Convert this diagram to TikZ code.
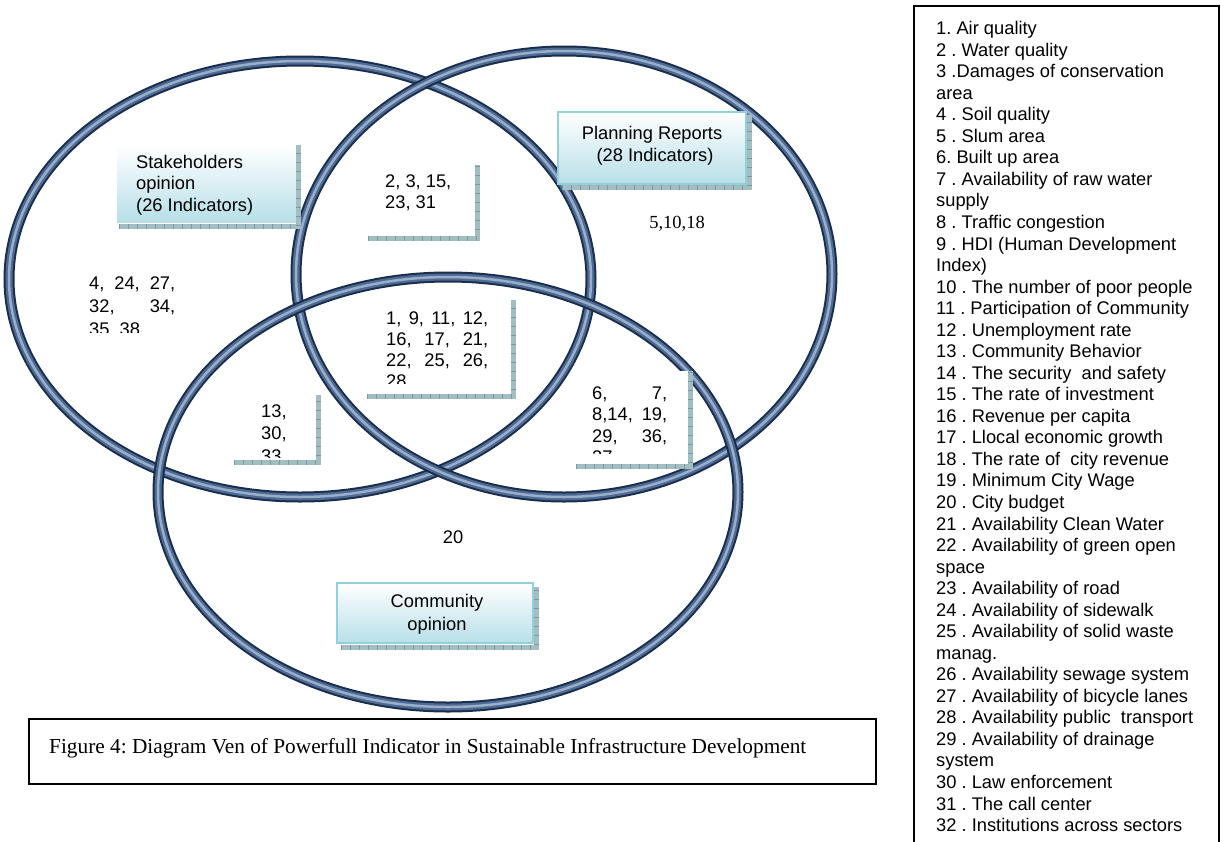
\documentclass[tikz,border=0pt]{standalone}
\usepackage{fontspec}
\setmainfont{Liberation Sans}
\newfontfamily\tnr{Liberation Serif}
\frenchspacing
\definecolor{ringA}{HTML}{1A2D4D}
\definecolor{ringB}{HTML}{4D6B92}
\definecolor{ringC}{HTML}{9AAECB}
\definecolor{hatchA}{HTML}{A3BEC2}
\definecolor{hatchB}{HTML}{7A9A9F}
\definecolor{boxedge}{HTML}{92D0DC}
\definecolor{boxbot}{HTML}{B7DFE8}
\tikzset{
  ring/.style={draw=ringA, line width=11pt,
    postaction={draw=ringB, line width=7pt},
    postaction={draw=ringC, line width=2.5pt}},
  lshadow/.style={draw=hatchB, line width=5pt, dash pattern=on 1pt off 8pt,
    preaction={draw=hatchA, line width=5pt}},
  txt/.style={font=\fontsize{18.3}{21.5}\selectfont, inner sep=0pt, anchor=base west},
  ctxt/.style={txt, anchor=base},
  leg/.style={font=\fontsize{18.3}{21.5}\selectfont, inner sep=0pt, anchor=base west},
  serif/.style={font=\tnr\fontsize{18.5}{22}\selectfont, inner sep=0pt, anchor=base},
  lblbox/.style={top color=white, bottom color=boxbot},
  whitebox/.style={fill=white}
}
\begin{document}
\begin{tikzpicture}[x=1pt,y=-1pt]
\useasboundingbox (0,0) rectangle (1221,841);
\fill[white] (0,0) rectangle (1221,841);

% Venn ellipses
\draw[ring] (300,279) ellipse [x radius=291, y radius=218];
\draw[ring] (564,274) ellipse [x radius=268, y radius=223];
\draw[ring] (448,492) ellipse [x radius=290, y radius=215];

% Stakeholders label
\shade[lblbox] (117,145) rectangle (297,222);
\draw[lshadow] (119,226.5) -- (298.5,226.5) -- (298.5,145);
\node[txt] (s1) at (136,168) {Stakeholders};
\node[txt] (s2) at (136,189.5) {opinion};
\node[txt] (s3) at (136,211) {(26 Indicators)};

% Planning label
\shade[lblbox, draw=boxedge, line width=2pt] (558,112) rectangle (746,184);
\draw[lshadow] (562,187.5) -- (749.5,187.5) -- (749.5,115);
\node[ctxt] (p1) at (652,139.5) {Planning Reports};
\node[ctxt] (p2) at (655,161) {(28 Indicators)};

% Community label
\shade[lblbox, draw=boxedge, line width=2pt] (337,583) rectangle (533,643);
\draw[lshadow] (341,647) -- (536.5,647) -- (536.5,587);
\node[ctxt] (c1) at (437,607) {Community};
\node[ctxt] (c2) at (437,630) {opinion};

% region numbers
\node[ctxt] (n20) at (453,543) {20};
\node[serif] (n5) at (677,228) {5,10,18};

% box: 2,3,15,23,31
\fill[whitebox] (368,165) rectangle (475,236);
\draw[lshadow] (368,238) -- (477,238) -- (477,165);
\node[txt] (a1) at (385,187.5) {2, 3, 15,};
\node[txt] (a2) at (385,208.5) {23, 31};

% box: centre
\fill[whitebox] (367,295) rectangle (510,394);
\draw[lshadow] (367,396.5) -- (513,396.5) -- (513,300);
\begin{scope}
\clip (367,295) rectangle (510,383);
\node[txt] (b1) at (386,324.3) {\makebox[102pt][s]{1, 9, 11, 12,}};
\node[txt] (b2) at (386,345.3) {\makebox[102pt][s]{16, 17, 21,}};
\node[txt] (b3) at (386,366.3) {\makebox[102pt][s]{22, 25, 26,}};
\node[txt] (b4) at (386,387.3) {28};
\end{scope}

% stakeholders only
\begin{scope}
\clip (80,260) rectangle (200,332);
\node[txt] (d1) at (89,289.5) {\makebox[86pt][s]{4, 24, 27,}};
\node[txt] (d2) at (89,312.5) {\makebox[86pt][s]{32, 34,}};
\node[txt] (d3) at (89,335.5) {35, 38};
\end{scope}

% box: 13,30,33
\fill[whitebox] (234,395) rectangle (316,460);
\draw[lshadow] (234,462) -- (318,462) -- (318,395);
\begin{scope}
\clip (234,395) rectangle (316,457);
\node[txt] (e1) at (261,417.5) {13,};
\node[txt] (e2) at (261,439.5) {30,};
\node[txt] (e3) at (261,462.5) {33};
\end{scope}

% box: 6,7,...
\fill[whitebox] (576,371) rectangle (688,464);
\draw[lshadow] (576,466) -- (690,466) -- (690,371);
\begin{scope}
\clip (576,371) rectangle (688,453);
\node[txt] (f1) at (592,399.3) {\makebox[75pt][s]{6, 7,}};
\node[txt] (f2) at (592,420.5) {\makebox[75pt][s]{8,14, 19,}};
\node[txt] (f3) at (592,442) {\makebox[75pt][s]{29, 36,}};
\node[txt] (f4) at (592,463.5) {37};
\end{scope}

% caption
\draw[line width=1.3pt] (29,719) rectangle (876,784);
\node[font=\tnr\fontsize{21.3}{25}\selectfont, inner sep=0pt, anchor=base west] (cap) at (49,753) {Figure 4: Diagram Ven of Powerfull Indicator in Sustainable Infrastructure Development};

% legend
\draw[line width=2pt] (914,6) rectangle (1219,870);
\foreach \t [count=\i] in {
1. Air quality,
2 . Water quality,
3 .Damages of conservation,
area,
4 . Soil quality,
5 . Slum area,
6. Built up area,
7 . Availability of raw water,
supply,
8 . Traffic congestion,
9 . HDI (Human Development,
Index),
10 . The number of poor people,
11 . Participation of Community,
12 . Unemployment rate,
13 . Community Behavior,
14 . The security~ and safety,
15 . The rate of investment,
16 . Revenue per capita,
17 . Llocal economic growth,
18 . The rate of~ city revenue,
19 . Minimum City Wage,
20 . City budget,
21 . Availability Clean Water,
22 . Availability of green open,
space,
23 . Availability of road,
24 . Availability of sidewalk,
25 . Availability of solid waste,
manag.,
26 . Availability sewage system,
27 . Availability of bicycle lanes,
28 . Availability public~ transport,
29 . Availability of drainage,
system,
30 . Law enforcement,
31 . The call center,
32 . Institutions across sectors}
  \node[leg] (leg\i) at (936,{34.6+21.54*(\i-1)}) {\t};
\end{tikzpicture}
\end{document}
